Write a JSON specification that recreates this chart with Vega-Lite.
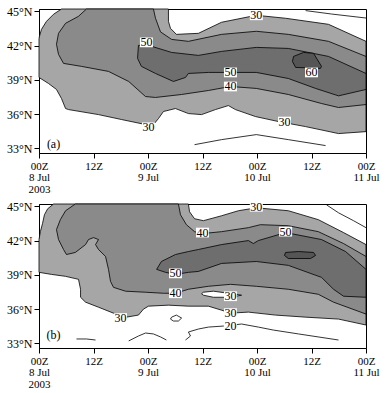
{
"$schema": "https://vega.github.io/schema/vega-lite/v6.json",
"padding": {"left": 6, "top": 4, "right": 5, "bottom": 0},
"spacing": 4,
"config": {
  "view": {"stroke": "black", "strokeWidth": 1},
  "font": "Liberation Serif",
  "axis": {"labelFont": "Liberation Serif", "labelFontSize": 12, "labelColor": "black", "domainColor": "black", "tickColor": "black", "grid": false, "title": null, "tickSize": 5, "labelPadding": 2, "domainWidth": 1, "tickWidth": 1}
},
"datasets": {
  "pa": [
    {"id":"a1","lv":"30","o":0,"h":4.95,"lat":45.2},{"id":"a1","lv":"30","o":1,"h":3.2,"lat":44.74},{"id":"a1","lv":"30","o":2,"h":1.65,"lat":44.12},{"id":"a1","lv":"30","o":3,"h":0.55,"lat":43.42},{"id":"a1","lv":"30","o":4,"h":0.1,"lat":42.81},{"id":"a1","lv":"30","o":5,"h":0,"lat":42.6},{"id":"a1","lv":"30","o":6,"h":0,"lat":39.21},{"id":"a1","lv":"30","o":7,"h":2.1,"lat":38.68},{"id":"a1","lv":"30","o":8,"h":3.85,"lat":38.16},{"id":"a1","lv":"30","o":9,"h":4.95,"lat":37.37},{"id":"a1","lv":"30","o":10,"h":5.85,"lat":36.49},{"id":"a1","lv":"30","o":11,"h":6.5,"lat":36.4},{"id":"a1","lv":"30","o":12,"h":13.1,"lat":35.96},{"id":"a1","lv":"30","o":13,"h":18.15,"lat":35.53},{"id":"a1","lv":"30","o":14,"h":23.45,"lat":35.09},{"id":"a1","lv":"30","o":15,"h":25.2,"lat":35.09},{"id":"a1","lv":"30","o":16,"h":26.3,"lat":35.61},{"id":"a1","lv":"30","o":17,"h":27.4,"lat":36.23},{"id":"a1","lv":"30","o":18,"h":30.05,"lat":36.49},{"id":"a1","lv":"30","o":19,"h":32.9,"lat":36.05},{"id":"a1","lv":"30","o":20,"h":35.8,"lat":35.96},{"id":"a1","lv":"30","o":21,"h":38.85,"lat":36.4},{"id":"a1","lv":"30","o":22,"h":41.7,"lat":36.75},{"id":"a1","lv":"30","o":23,"h":43.25,"lat":36.4},{"id":"a1","lv":"30","o":24,"h":47.65,"lat":35.79},{"id":"a1","lv":"30","o":25,"h":52.75,"lat":35.35},{"id":"a1","lv":"30","o":26,"h":58.7,"lat":34.91},{"id":"a1","lv":"30","o":27,"h":65.95,"lat":34.3},{"id":"a1","lv":"30","o":28,"h":72,"lat":34.47},{"id":"a1","lv":"30","o":29,"h":72,"lat":42.37},{"id":"a1","lv":"30","o":30,"h":63.75,"lat":43.86},{"id":"a1","lv":"30","o":31,"h":54.3,"lat":44.39},{"id":"a1","lv":"30","o":32,"h":47.85,"lat":44.65},{"id":"a1","lv":"30","o":33,"h":40.2,"lat":44.04},{"id":"a1","lv":"30","o":34,"h":35.1,"lat":43.07},{"id":"a1","lv":"30","o":35,"h":30.25,"lat":42.98},{"id":"a1","lv":"30","o":36,"h":28.95,"lat":43.51},{"id":"a1","lv":"30","o":37,"h":28.5,"lat":44.12},{"id":"a1","lv":"30","o":38,"h":28.5,"lat":45.2},{"id":"a1","lv":"30","o":39,"h":4.95,"lat":45.2},
    {"id":"a2","lv":"40","o":0,"h":10.45,"lat":45.2},{"id":"a2","lv":"40","o":1,"h":8.7,"lat":44.56},{"id":"a2","lv":"40","o":2,"h":5.85,"lat":43.95},{"id":"a2","lv":"40","o":3,"h":4.3,"lat":43.07},{"id":"a2","lv":"40","o":4,"h":3.85,"lat":42.11},{"id":"a2","lv":"40","o":5,"h":4.3,"lat":41.23},{"id":"a2","lv":"40","o":6,"h":5.4,"lat":40.44},{"id":"a2","lv":"40","o":7,"h":9.35,"lat":40.18},{"id":"a2","lv":"40","o":8,"h":15.3,"lat":39.74},{"id":"a2","lv":"40","o":9,"h":19.75,"lat":38.86},{"id":"a2","lv":"40","o":10,"h":23.45,"lat":37.54},{"id":"a2","lv":"40","o":11,"h":25.65,"lat":37.46},{"id":"a2","lv":"40","o":12,"h":31.4,"lat":37.72},{"id":"a2","lv":"40","o":13,"h":37.3,"lat":38.07},{"id":"a2","lv":"40","o":14,"h":42.15,"lat":38.42},{"id":"a2","lv":"40","o":15,"h":47.85,"lat":38.25},{"id":"a2","lv":"40","o":16,"h":54.9,"lat":37.72},{"id":"a2","lv":"40","o":17,"h":62.2,"lat":36.93},{"id":"a2","lv":"40","o":18,"h":65.95,"lat":36.58},{"id":"a2","lv":"40","o":19,"h":72,"lat":36.84},{"id":"a2","lv":"40","o":20,"h":72,"lat":41.05},{"id":"a2","lv":"40","o":21,"h":63.75,"lat":42.37},{"id":"a2","lv":"40","o":22,"h":54.9,"lat":42.98},{"id":"a2","lv":"40","o":23,"h":47.85,"lat":43.25},{"id":"a2","lv":"40","o":24,"h":40.2,"lat":42.98},{"id":"a2","lv":"40","o":25,"h":32.9,"lat":42.37},{"id":"a2","lv":"40","o":26,"h":29.2,"lat":42.54},{"id":"a2","lv":"40","o":27,"h":26.75,"lat":43.2},{"id":"a2","lv":"40","o":28,"h":25.65,"lat":44.39},{"id":"a2","lv":"40","o":29,"h":25.2,"lat":45.2},{"id":"a2","lv":"40","o":30,"h":10.45,"lat":45.2},
    {"id":"a3","lv":"50","o":0,"h":21.9,"lat":42.02},{"id":"a3","lv":"50","o":1,"h":24.1,"lat":42.02},{"id":"a3","lv":"50","o":2,"h":29.2,"lat":41.4},{"id":"a3","lv":"50","o":3,"h":35.1,"lat":41.14},{"id":"a3","lv":"50","o":4,"h":40.2,"lat":41.49},{"id":"a3","lv":"50","o":5,"h":47.85,"lat":41.84},{"id":"a3","lv":"50","o":6,"h":54.9,"lat":41.75},{"id":"a3","lv":"50","o":7,"h":63.75,"lat":41.05},{"id":"a3","lv":"50","o":8,"h":72,"lat":39.56},{"id":"a3","lv":"50","o":9,"h":72,"lat":38.16},{"id":"a3","lv":"50","o":10,"h":65.95,"lat":37.6},{"id":"a3","lv":"50","o":11,"h":60.9,"lat":38.25},{"id":"a3","lv":"50","o":12,"h":54.9,"lat":39.12},{"id":"a3","lv":"50","o":13,"h":47.85,"lat":39.65},{"id":"a3","lv":"50","o":14,"h":42.15,"lat":39.65},{"id":"a3","lv":"50","o":15,"h":37.3,"lat":39.65},{"id":"a3","lv":"50","o":16,"h":32.9,"lat":39.56},{"id":"a3","lv":"50","o":17,"h":32.25,"lat":39.21},{"id":"a3","lv":"50","o":18,"h":29.6,"lat":38.86},{"id":"a3","lv":"50","o":19,"h":25.65,"lat":39.56},{"id":"a3","lv":"50","o":20,"h":22.55,"lat":40.18},{"id":"a3","lv":"50","o":21,"h":21.7,"lat":40.88},{"id":"a3","lv":"50","o":22,"h":21.9,"lat":42.02},
    {"id":"a4","lv":"60","o":0,"h":56.05,"lat":41.05},{"id":"a4","lv":"60","o":1,"h":58.25,"lat":41.4},{"id":"a4","lv":"60","o":2,"h":60.45,"lat":41.32},{"id":"a4","lv":"60","o":3,"h":62.2,"lat":40.18},{"id":"a4","lv":"60","o":4,"h":61.95,"lat":40.0},{"id":"a4","lv":"60","o":5,"h":56.5,"lat":40.09},{"id":"a4","lv":"60","o":6,"h":55.8,"lat":40.61},{"id":"a4","lv":"60","o":7,"h":56.05,"lat":41.05}
  ],
  "la": [
    {"id":"l1","o":0,"h":34.25,"lat":33.33},{"id":"l1","o":1,"h":40.2,"lat":33.77},{"id":"l1","o":2,"h":47.85,"lat":34.21},{"id":"l1","o":3,"h":54.9,"lat":33.77},{"id":"l1","o":4,"h":63.1,"lat":33.25},
    {"id":"l2","o":0,"h":58.7,"lat":45.06},{"id":"l2","o":1,"h":64.4,"lat":44.76},{"id":"l2","o":2,"h":72,"lat":44.41}
  ],
  "ta": [
    {"t":"50","h":23.65,"lat":42.28},{"t":"30","h":47.85,"lat":44.65},{"t":"50","h":42.15,"lat":39.65},{"t":"40","h":42.15,"lat":38.42},{"t":"60","h":60.0,"lat":39.65},{"t":"30","h":54.05,"lat":35.35},{"t":"30","h":24.1,"lat":34.85}
  ],
  "pb": [
    {"id":"b1","lv":"30","o":0,"h":3.2,"lat":45.2},{"id":"b1","lv":"30","o":1,"h":1.9,"lat":44.78},{"id":"b1","lv":"30","o":2,"h":1.2,"lat":44.26},{"id":"b1","lv":"30","o":3,"h":0.77,"lat":43.48},{"id":"b1","lv":"30","o":4,"h":0.3,"lat":42.78},{"id":"b1","lv":"30","o":5,"h":0,"lat":42.09},{"id":"b1","lv":"30","o":6,"h":0,"lat":39.22},{"id":"b1","lv":"30","o":7,"h":2.75,"lat":39.04},{"id":"b1","lv":"30","o":8,"h":5.85,"lat":38.87},{"id":"b1","lv":"30","o":9,"h":8.7,"lat":38.61},{"id":"b1","lv":"30","o":10,"h":9.15,"lat":37.74},{"id":"b1","lv":"30","o":11,"h":9.15,"lat":37.04},{"id":"b1","lv":"30","o":12,"h":10.25,"lat":36.61},{"id":"b1","lv":"30","o":13,"h":13.1,"lat":36.17},{"id":"b1","lv":"30","o":14,"h":16.4,"lat":35.65},{"id":"b1","lv":"30","o":15,"h":19.25,"lat":35.3},{"id":"b1","lv":"30","o":16,"h":21.9,"lat":35.48},{"id":"b1","lv":"30","o":17,"h":23.0,"lat":36.0},{"id":"b1","lv":"30","o":18,"h":24.1,"lat":36.26},{"id":"b1","lv":"30","o":19,"h":28.5,"lat":36.35},{"id":"b1","lv":"30","o":20,"h":32.9,"lat":36.26},{"id":"b1","lv":"30","o":21,"h":37.3,"lat":36.26},{"id":"b1","lv":"30","o":22,"h":40.2,"lat":35.91},{"id":"b1","lv":"30","o":23,"h":42.15,"lat":35.65},{"id":"b1","lv":"30","o":24,"h":46.1,"lat":35.74},{"id":"b1","lv":"30","o":25,"h":52.05,"lat":35.48},{"id":"b1","lv":"30","o":26,"h":58.7,"lat":35.3},{"id":"b1","lv":"30","o":27,"h":65.95,"lat":35.13},{"id":"b1","lv":"30","o":28,"h":72,"lat":34.61},{"id":"b1","lv":"30","o":29,"h":72,"lat":41.65},{"id":"b1","lv":"30","o":30,"h":67.05,"lat":42.7},{"id":"b1","lv":"30","o":31,"h":61.5,"lat":43.83},{"id":"b1","lv":"30","o":32,"h":54.9,"lat":44.61},{"id":"b1","lv":"30","o":33,"h":47.85,"lat":44.87},{"id":"b1","lv":"30","o":34,"h":43.9,"lat":44.61},{"id":"b1","lv":"30","o":35,"h":40.2,"lat":44.17},{"id":"b1","lv":"30","o":36,"h":36.2,"lat":43.74},{"id":"b1","lv":"30","o":37,"h":34.25,"lat":43.91},{"id":"b1","lv":"30","o":38,"h":33.15,"lat":44.52},{"id":"b1","lv":"30","o":39,"h":32.9,"lat":45.2},{"id":"b1","lv":"30","o":40,"h":3.2,"lat":45.2},
    {"id":"b2","lv":"h","o":0,"h":36.2,"lat":37.48},{"id":"b2","lv":"h","o":1,"h":38.4,"lat":37.57},{"id":"b2","lv":"h","o":2,"h":41.7,"lat":37.39},{"id":"b2","lv":"h","o":3,"h":44.6,"lat":37.22},{"id":"b2","lv":"h","o":4,"h":42.15,"lat":37.04},{"id":"b2","lv":"h","o":5,"h":38.4,"lat":37.04},{"id":"b2","lv":"h","o":6,"h":36.2,"lat":37.22},{"id":"b2","lv":"h","o":7,"h":35.8,"lat":37.35},{"id":"b2","lv":"h","o":8,"h":36.2,"lat":37.48},
    {"id":"b3","lv":"40","o":0,"h":8.0,"lat":45.2},{"id":"b3","lv":"40","o":1,"h":5.85,"lat":44.61},{"id":"b3","lv":"40","o":2,"h":4.7,"lat":43.83},{"id":"b3","lv":"40","o":3,"h":3.85,"lat":42.96},{"id":"b3","lv":"40","o":4,"h":4.3,"lat":42.09},{"id":"b3","lv":"40","o":5,"h":5.4,"lat":41.22},{"id":"b3","lv":"40","o":6,"h":6.05,"lat":40.78},{"id":"b3","lv":"40","o":7,"h":8.0,"lat":40.96},{"id":"b3","lv":"40","o":8,"h":10.25,"lat":41.65},{"id":"b3","lv":"40","o":9,"h":10.9,"lat":42.09},{"id":"b3","lv":"40","o":10,"h":12.0,"lat":42.26},{"id":"b3","lv":"40","o":11,"h":13.1,"lat":42.09},{"id":"b3","lv":"40","o":12,"h":12.45,"lat":41.65},{"id":"b3","lv":"40","o":13,"h":13.1,"lat":41.22},{"id":"b3","lv":"40","o":14,"h":14.65,"lat":40.61},{"id":"b3","lv":"40","o":15,"h":15.3,"lat":39.48},{"id":"b3","lv":"40","o":16,"h":15.75,"lat":38.43},{"id":"b3","lv":"40","o":17,"h":16.4,"lat":37.91},{"id":"b3","lv":"40","o":18,"h":19.05,"lat":37.57},{"id":"b3","lv":"40","o":19,"h":23.45,"lat":37.48},{"id":"b3","lv":"40","o":20,"h":27.4,"lat":37.39},{"id":"b3","lv":"40","o":21,"h":30.05,"lat":37.39},{"id":"b3","lv":"40","o":22,"h":32.9,"lat":37.74},{"id":"b3","lv":"40","o":23,"h":37.3,"lat":38.0},{"id":"b3","lv":"40","o":24,"h":42.15,"lat":38.17},{"id":"b3","lv":"40","o":25,"h":47.85,"lat":38.0},{"id":"b3","lv":"40","o":26,"h":54.9,"lat":37.74},{"id":"b3","lv":"40","o":27,"h":61.5,"lat":37.3},{"id":"b3","lv":"40","o":28,"h":64.85,"lat":36.61},{"id":"b3","lv":"40","o":29,"h":72,"lat":35.57},{"id":"b3","lv":"40","o":30,"h":72,"lat":40.61},{"id":"b3","lv":"40","o":31,"h":67.05,"lat":41.74},{"id":"b3","lv":"40","o":32,"h":61.5,"lat":42.78},{"id":"b3","lv":"40","o":33,"h":54.9,"lat":43.3},{"id":"b3","lv":"40","o":34,"h":48.75,"lat":43.39},{"id":"b3","lv":"40","o":35,"h":46.1,"lat":43.13},{"id":"b3","lv":"40","o":36,"h":40.2,"lat":42.78},{"id":"b3","lv":"40","o":37,"h":36.0,"lat":42.61},{"id":"b3","lv":"40","o":38,"h":34.25,"lat":42.78},{"id":"b3","lv":"40","o":39,"h":32.45,"lat":43.39},{"id":"b3","lv":"40","o":40,"h":31.15,"lat":44.26},{"id":"b3","lv":"40","o":41,"h":30.7,"lat":45.2},{"id":"b3","lv":"40","o":42,"h":8.0,"lat":45.2},
    {"id":"b4","lv":"50","o":0,"h":25.9,"lat":39.48},{"id":"b4","lv":"50","o":1,"h":26.95,"lat":40.17},{"id":"b4","lv":"50","o":2,"h":30.05,"lat":40.78},{"id":"b4","lv":"50","o":3,"h":32.9,"lat":41.04},{"id":"b4","lv":"50","o":4,"h":35.1,"lat":41.22},{"id":"b4","lv":"50","o":5,"h":40.2,"lat":41.65},{"id":"b4","lv":"50","o":6,"h":46.1,"lat":42.0},{"id":"b4","lv":"50","o":7,"h":47.2,"lat":41.74},{"id":"b4","lv":"50","o":8,"h":48.3,"lat":42.0},{"id":"b4","lv":"50","o":9,"h":54.3,"lat":42.7},{"id":"b4","lv":"50","o":10,"h":62.2,"lat":42.09},{"id":"b4","lv":"50","o":11,"h":67.5,"lat":41.04},{"id":"b4","lv":"50","o":12,"h":72,"lat":39.48},{"id":"b4","lv":"50","o":13,"h":72,"lat":37.04},{"id":"b4","lv":"50","o":14,"h":67.05,"lat":37.13},{"id":"b4","lv":"50","o":15,"h":64.85,"lat":37.74},{"id":"b4","lv":"50","o":16,"h":62.2,"lat":38.78},{"id":"b4","lv":"50","o":17,"h":54.9,"lat":39.83},{"id":"b4","lv":"50","o":18,"h":47.85,"lat":40.17},{"id":"b4","lv":"50","o":19,"h":40.2,"lat":40.0},{"id":"b4","lv":"50","o":20,"h":35.1,"lat":39.3},{"id":"b4","lv":"50","o":21,"h":32.9,"lat":39.22},{"id":"b4","lv":"50","o":22,"h":30.05,"lat":39.04},{"id":"b4","lv":"50","o":23,"h":27.85,"lat":39.22},{"id":"b4","lv":"50","o":24,"h":25.9,"lat":39.48},
    {"id":"b5","lv":"60","o":0,"h":54.3,"lat":40.96},{"id":"b5","lv":"60","o":1,"h":57.15,"lat":41.04},{"id":"b5","lv":"60","o":2,"h":60.45,"lat":40.96},{"id":"b5","lv":"60","o":3,"h":60.9,"lat":40.7},{"id":"b5","lv":"60","o":4,"h":59.8,"lat":40.43},{"id":"b5","lv":"60","o":5,"h":54.9,"lat":40.43},{"id":"b5","lv":"60","o":6,"h":54.05,"lat":40.7},{"id":"b5","lv":"60","o":7,"h":54.3,"lat":40.96}
  ],
  "lb": [
    {"id":"m1","o":0,"h":63.3,"lat":45.13},{"id":"m1","o":1,"h":65.95,"lat":44.43},{"id":"m1","o":2,"h":69.25,"lat":43.74},{"id":"m1","o":3,"h":72,"lat":43.13},
    {"id":"m2","o":0,"h":32.25,"lat":33.3},{"id":"m2","o":1,"h":33.35,"lat":33.65},{"id":"m2","o":2,"h":32.9,"lat":34.0},{"id":"m2","o":3,"h":35.1,"lat":34.26},{"id":"m2","o":4,"h":37.3,"lat":34.43},{"id":"m2","o":5,"h":40.6,"lat":34.52},{"id":"m2","o":6,"h":44.6,"lat":34.7},{"id":"m2","o":7,"h":48.3,"lat":34.43},{"id":"m2","o":8,"h":51.6,"lat":34.17},{"id":"m2","o":9,"h":57.15,"lat":33.83},{"id":"m2","o":10,"h":65.95,"lat":33.3},
    {"id":"m3","o":0,"h":29.2,"lat":35.3},{"id":"m3","o":1,"h":30.25,"lat":35.48},{"id":"m3","o":2,"h":31.4,"lat":35.22},{"id":"m3","o":3,"h":30.7,"lat":34.96},{"id":"m3","o":4,"h":29.6,"lat":34.96},{"id":"m3","o":5,"h":28.95,"lat":35.13},{"id":"m3","o":6,"h":29.2,"lat":35.3},
    {"id":"m4","o":0,"h":8.25,"lat":33.39},{"id":"m4","o":1,"h":10.45,"lat":33.39},{"id":"m4","o":2,"h":12.45,"lat":33.3},
    {"id":"m5","o":0,"h":19.75,"lat":33.22},{"id":"m5","o":1,"h":21.9,"lat":33.65},{"id":"m5","o":2,"h":23.45,"lat":33.91},{"id":"m5","o":3,"h":25.2,"lat":33.83},{"id":"m5","o":4,"h":26.75,"lat":33.57},{"id":"m5","o":5,"h":28.05,"lat":33.3}
  ],
  "tb": [
    {"t":"30","h":47.85,"lat":44.96},{"t":"40","h":36.0,"lat":42.7},{"t":"50","h":54.3,"lat":42.78},{"t":"50","h":30.05,"lat":39.13},{"t":"40","h":30.05,"lat":37.39},{"t":"30","h":42.15,"lat":37.13},{"t":"30","h":17.95,"lat":35.22},{"t":"30","h":42.15,"lat":35.65},{"t":"20","h":42.15,"lat":34.52}
  ]
},
"vconcat": [
  {
    "width": 327, "height": 144,
    "encoding": {
      "x": {"field": "h", "type": "quantitative", "scale": {"domain": [0, 72], "nice": false, "zero": false},
        "axis": {"values": [0, 12, 24, 36, 48, 60, 72], "labelFlush": false, "labelOverlap": false, "labelFontSize": 11, "labelLineHeight": 11.5, "labelBaseline": "top",
          "labelExpr": "datum.value == 0 ? ['00Z','8 Jul','2003'] : datum.value == 24 ? ['00Z','9 Jul'] : datum.value == 48 ? ['00Z','10 Jul'] : datum.value == 72 ? ['00Z','11 Jul'] : '12Z'"}},
      "y": {"field": "lat", "type": "quantitative", "scale": {"domain": [32.6, 45.2], "nice": false, "zero": false},
        "axis": {"values": [33, 36, 39, 42, 45], "labelExpr": "datum.value + '°N'"}}
    },
    "layer": [
      {"data": {"name": "pa"}, "mark": {"type": "line", "stroke": "black", "strokeWidth": 0.8},
       "encoding": {"detail": {"field": "id"}, "order": {"field": "o", "type": "quantitative"},
         "fill": {"field": "lv", "type": "nominal", "legend": null, "scale": {"domain": ["30", "40", "50", "60", "h"], "range": ["#a6a6a6", "#8a8a8a", "#6e6e6e", "#555555", "#ffffff"]}}}},
      {"data": {"name": "la"}, "mark": {"type": "line", "stroke": "black", "strokeWidth": 0.8},
       "encoding": {"detail": {"field": "id"}, "order": {"field": "o", "type": "quantitative"}}},
      {"data": {"name": "ta"}, "mark": {"type": "point", "shape": "M-1,-0.75L1,-0.75L1,0.75L-1,0.75Z", "filled": true, "fill": "white", "opacity": 1, "strokeWidth": 0, "size": 169}},
      {"data": {"name": "ta"}, "mark": {"type": "text", "font": "Liberation Serif", "fontSize": 12, "baseline": "middle", "color": "black"},
       "encoding": {"text": {"field": "t"}}},
      {"data": {"values": [{"t": "(a)", "h": 3.2, "lat": 33.4}]}, "mark": {"type": "text", "font": "Liberation Serif", "fontSize": 12, "baseline": "middle", "color": "black"},
       "encoding": {"text": {"field": "t"}}}
    ]
  },
  {
    "width": 327, "height": 144,
    "encoding": {
      "x": {"field": "h", "type": "quantitative", "scale": {"domain": [0, 72], "nice": false, "zero": false},
        "axis": {"values": [0, 12, 24, 36, 48, 60, 72], "labelFlush": false, "labelOverlap": false, "labelFontSize": 11, "labelLineHeight": 11.5, "labelBaseline": "top",
          "labelExpr": "datum.value == 0 ? ['00Z','8 Jul','2003'] : datum.value == 24 ? ['00Z','9 Jul'] : datum.value == 48 ? ['00Z','10 Jul'] : datum.value == 72 ? ['00Z','11 Jul'] : '12Z'"}},
      "y": {"field": "lat", "type": "quantitative", "scale": {"domain": [32.6, 45.2], "nice": false, "zero": false},
        "axis": {"values": [33, 36, 39, 42, 45], "labelExpr": "datum.value + '°N'"}}
    },
    "layer": [
      {"data": {"name": "pb"}, "mark": {"type": "line", "stroke": "black", "strokeWidth": 0.8},
       "encoding": {"detail": {"field": "id"}, "order": {"field": "o", "type": "quantitative"},
         "fill": {"field": "lv", "type": "nominal", "legend": null, "scale": {"domain": ["30", "40", "50", "60", "h"], "range": ["#a6a6a6", "#8a8a8a", "#6e6e6e", "#555555", "#ffffff"]}}}},
      {"data": {"name": "lb"}, "mark": {"type": "line", "stroke": "black", "strokeWidth": 0.8},
       "encoding": {"detail": {"field": "id"}, "order": {"field": "o", "type": "quantitative"}}},
      {"data": {"name": "tb"}, "mark": {"type": "point", "shape": "M-1,-0.75L1,-0.75L1,0.75L-1,0.75Z", "filled": true, "fill": "white", "opacity": 1, "strokeWidth": 0, "size": 169}},
      {"data": {"name": "tb"}, "mark": {"type": "text", "font": "Liberation Serif", "fontSize": 12, "baseline": "middle", "color": "black"},
       "encoding": {"text": {"field": "t"}}},
      {"data": {"values": [{"t": "(b)", "h": 3.2, "lat": 33.7}]}, "mark": {"type": "text", "font": "Liberation Serif", "fontSize": 12, "baseline": "middle", "color": "black"},
       "encoding": {"text": {"field": "t"}}}
    ]
  }
]
}
